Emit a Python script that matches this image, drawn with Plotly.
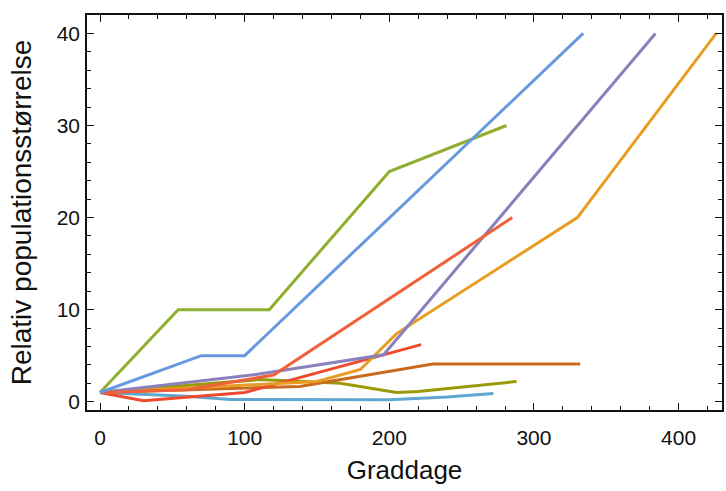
import plotly.graph_objects as go

# Series data (Graddage, relative population size)
blue_x = [0, 70, 100, 334]
blue_y = [1, 5, 5, 40]
orange_x = [0, 150, 180, 205, 330, 426]
orange_y = [1, 2.2, 3.5, 7.4, 20, 40]
green_x = [0, 54, 117, 200, 281]
green_y = [1, 10, 10, 25, 30]
red_x = [0, 60, 120, 285]
red_y = [1, 1.3, 2.9, 20]
purple_x = [0, 110, 196, 384]
purple_y = [1, 3.0, 5.1, 40]
darkorange_x = [0, 138, 230, 332]
darkorange_y = [1, 1.66, 4.1, 4.1]
lightblue_x = [0, 60, 90, 200, 240, 272]
lightblue_y = [1, 0.6, 0.25, 0.2, 0.5, 0.9]
olive_x = [0, 110, 166, 205, 220, 288]
olive_y = [1, 2.4, 2.0, 1.0, 1.1, 2.2]
red2_x = [0, 30, 100, 222]
red2_y = [1, 0.1, 1.0, 6.2]

x_ticks = [0, 100, 200, 300, 400]
y_ticks = [0, 10, 20, 30, 40]
x_title = "Graddage"
y_title = "Relativ populationsstørrelse"

series = [
    (lightblue_x, lightblue_y, "#5FA6D0"),
    (olive_x, olive_y, "#9A9A08"),
    (darkorange_x, darkorange_y, "#C96B1C"),
    (red2_x, red2_y, "#EE4A30"),
    (orange_x, orange_y, "#E89C22"),
    (purple_x, purple_y, "#8A80BC"),
    (red_x, red_y, "#F0603A"),
    (green_x, green_y, "#8FAF2F"),
    (blue_x, blue_y, "#6699E0"),
]

fig = go.Figure()
for xs, ys, c in series:
    fig.add_trace(go.Scatter(x=xs, y=ys, mode="lines",
                             line=dict(color=c, width=3),
                             showlegend=False, hoverinfo="skip"))

fam = "Liberation Sans, Arial, sans-serif"
tick_font = dict(family=fam, size=21, color="#111")
xt_font = dict(family=fam, size=26, color="#111")
yt_font = dict(family=fam, size=28, color="#111")
fig.update_layout(
    width=726, height=491,
    margin=dict(l=87, r=4, t=15, b=81),
    paper_bgcolor="white", plot_bgcolor="white",
    font=tick_font,
    xaxis=dict(range=[-9, 430], tickvals=x_ticks, ticktext=[str(v) for v in x_ticks],
               ticks="inside", ticklen=7, tickwidth=1.2, tickcolor="#111",
               showline=True, linecolor="#111", linewidth=1.6, mirror="allticks",
               showgrid=False, zeroline=False, automargin=False,
               minor=dict(ticks="inside", dtick=20, tick0=0, ticklen=4, tickwidth=1, tickcolor="#111", showgrid=False),
               ticklabelstandoff=8,
               title=dict(text=x_title, standoff=13, font=xt_font),
               tickfont=tick_font),
    yaxis=dict(range=[-0.9, 42], tickvals=y_ticks, ticktext=[str(v) for v in y_ticks],
               ticks="inside", ticklen=7, tickwidth=1.2, tickcolor="#111",
               showline=True, linecolor="#111", linewidth=1.6, mirror="allticks",
               showgrid=False, zeroline=False, automargin=False,
               minor=dict(ticks="inside", dtick=2, tick0=0, ticklen=4, tickwidth=1, tickcolor="#111", showgrid=False),
               ticklabelstandoff=1,
               title=dict(text=y_title, standoff=17, font=yt_font),
               tickfont=tick_font),
)

fig.write_html("out.html", config={"displayModeBar": False},
               post_script="document.body.style.margin='0';")
